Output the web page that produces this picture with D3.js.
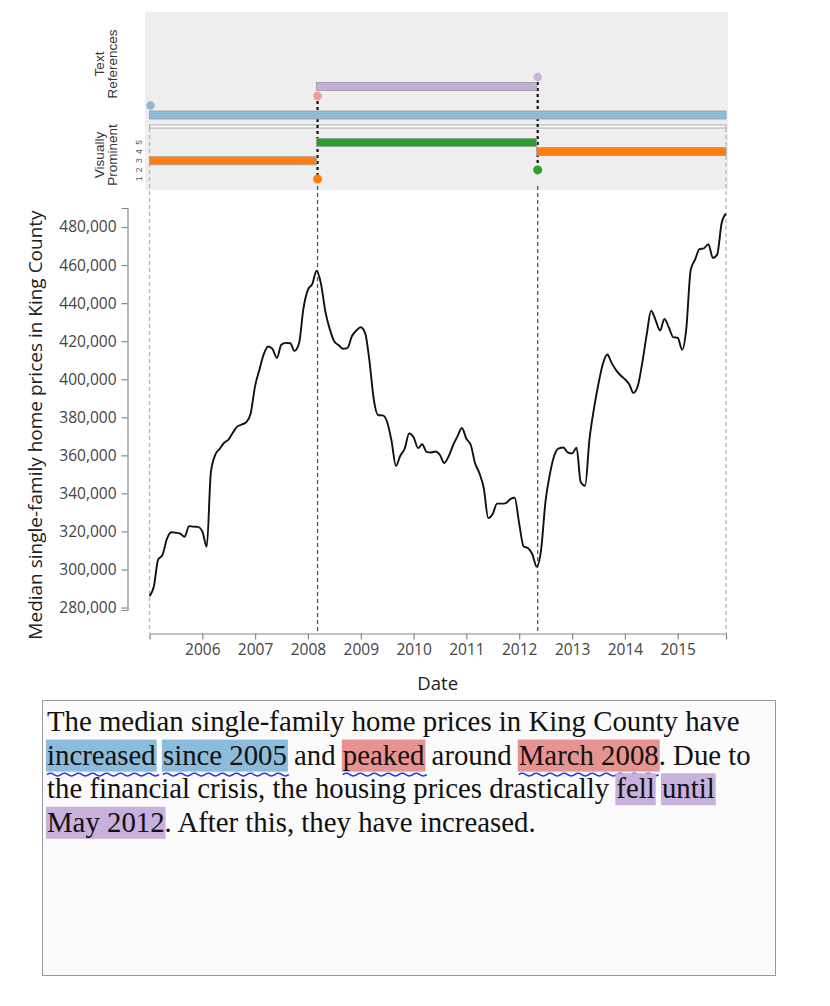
<!DOCTYPE html>
<html>
<head>
<meta charset="utf-8">
<script src="https://cdn.jsdelivr.net/npm/d3@7"></script>
<style>
  html, body { margin: 0; padding: 0; background: #fff; }
  svg { display: block; }
</style>
</head>
<body>
<svg id="chart" width="830" height="1006"></svg>
<script>
// ---------------- DATA ----------------
const startMonth = "2005-01";
// Monthly median single-family home price, King County (Jan 2005 .. Dec 2015)
const prices = [
  286000, 291400, 305100, 307700, 316000, 319600, 319300, 318800, 317200, 322800, 322500, 322400,
  320000, 312000, 350800, 360300, 363400, 366600, 368300, 372000, 375200, 376200, 377400, 381900,
  396400, 405300, 412900, 417200, 415900, 411200, 418100, 419100, 418900, 414900, 418900, 437000,
  447000, 450100, 457000, 450000, 435500, 426200, 420000, 417900, 416000, 416500, 422700, 425600,
  427300, 424000, 410100, 389300, 381100, 381000, 377800, 367800, 354500, 359800, 363600, 371500,
  369500, 363800, 365800, 361800, 361500, 362000, 360300, 356000, 359600, 365300, 370100, 374400,
  368700, 365300, 356100, 350600, 342800, 327000, 329000, 334600, 334600, 334900, 337000, 337700,
  324100, 312100, 311300, 308000, 301500, 310600, 335800, 350400, 360200, 363700, 364100, 361600,
  361000, 364000, 346000, 344000, 368400, 384500, 397200, 407900, 413000, 408600, 404800, 402100,
  400000, 397200, 392800, 396700, 408600, 423600, 436000, 431100, 425600, 431700, 427200, 422100,
  421800, 415500, 426200, 457500, 462900, 468400, 468800, 471000, 463800, 465500, 482100, 487000
];
const yTicks = [280000, 300000, 320000, 340000, 360000, 380000, 400000, 420000, 440000, 460000, 480000];
const xTickYears = [2006, 2007, 2008, 2009, 2010, 2011, 2012, 2013, 2014, 2015];
const promTicks = [1, 2, 3, 4, 5];

// Text references (top lanes)
const refLanes = ["fellPoint", "fellSpan", "peakPoint", "incPoint", "incSpan"];
const refSpans = [
  { lane: "fellSpan", start: "2008-03", end: "2012-05", color: "#c5b0d5" },
  { lane: "incSpan",  start: "2005-01", end: "2015-12", color: "#8fbbd9" }
];
const refPoints = [
  { lane: "fellPoint", date: "2012-05", color: "#c9b3dd" },
  { lane: "peakPoint", date: "2008-03", color: "#ee9c9c" },
  { lane: "incPoint",  date: "2005-01", color: "#8fbbd9" }
];
// Visually prominent (levels 1..5)
const promSpans = [
  { start: "2005-01", end: "2008-03", level: 3, color: "#ff7f0e" },
  { start: "2008-03", end: "2012-05", level: 5, color: "#2ca02c" },
  { start: "2012-05", end: "2015-12", level: 4, color: "#ff7f0e" }
];
const promPoints = [
  { date: "2008-03", level: 1, color: "#ff7f0e", refLane: "peakPoint" },
  { date: "2012-05", level: 2, color: "#2ca02c", refLane: "fellPoint" }
];
const edgeDates = ["2005-01", "2015-12"];

// Text passage
const hlColors = { inc: "#8dbbdc", peak: "#e79391", fell: "#c8b2dd" };
const textLines = [
  [["The median single-family home prices in King County have", null, false]],
  [["increased", "inc", true], [" ", null, false], ["since 2005", "inc", true], [" and ", null, false],
   ["peaked", "peak", true], [" around ", null, false], ["March 2008", "peak", true], [". Due to", null, false]],
  [["the financial crisis, the housing prices drastically ", null, false], ["fell", "fell", false],
   [" ", null, false], ["until", "fell", false]],
  [["May 2012", "fell", false], [". After this, they have increased.", null, false]]
];

// ---------------- CHART ----------------
const parseM = d3.timeParse("%Y-%m");
const t0 = parseM(startMonth);
const series = prices.map((v, i) => ({ date: d3.timeMonth.offset(t0, i), value: v }));

const svg = d3.select("#chart");
const x = d3.scaleTime().domain([parseM("2005-01"), parseM("2015-12")]).range([149.5, 726]);
const y = d3.scaleLinear().domain([278700, 490000]).range([610, 208]);

// top panel background
svg.append("rect").attr("x", 145).attr("y", 12).attr("width", 583).attr("height", 178).attr("fill", "#eeeeee");

const yLane = d3.scalePoint().domain(refLanes).range([77, 115]);
const yProm = d3.scaleLinear().domain([1, 5]).range([179, 142.5]);
const barH = 8;

// thin separator strip
svg.append("rect").attr("x", x(parseM("2005-01"))).attr("y", 125)
  .attr("width", x(parseM("2015-12")) - x(parseM("2005-01"))).attr("height", 3)
  .attr("fill", "#fff").attr("stroke", "#aaa").attr("stroke-width", 1);

// edge dashed lines
svg.selectAll("line.edge").data(edgeDates).join("line").attr("class", "edge")
  .attr("x1", d => x(parseM(d))).attr("x2", d => x(parseM(d)))
  .attr("y1", 128).attr("y2", 633)
  .attr("stroke", "#b5b5b5").attr("stroke-width", 1.3).attr("stroke-dasharray", "4,3");

// event dashed lines in main plot
svg.selectAll("line.evt").data(promPoints).join("line").attr("class", "evt")
  .attr("x1", d => x(parseM(d.date)) + 1).attr("x2", d => x(parseM(d.date)) + 1)
  .attr("y1", 186).attr("y2", 633)
  .attr("stroke", "#555").attr("stroke-width", 1.3).attr("stroke-dasharray", "4,3");

// connectors (thick) in top panel
svg.selectAll("line.conn").data(promPoints).join("line").attr("class", "conn")
  .attr("x1", d => x(parseM(d.date)) + 1).attr("x2", d => x(parseM(d.date)) + 1)
  .attr("y1", d => yLane(d.refLane) + 5).attr("y2", d => yProm(d.level) - 4)
  .attr("stroke", "#111").attr("stroke-width", 2.2).attr("stroke-dasharray", "3,3");

// reference spans
svg.selectAll("rect.rspan").data(refSpans).join("rect").attr("class", "rspan")
  .attr("x", d => x(parseM(d.start))).attr("width", d => x(parseM(d.end)) - x(parseM(d.start)))
  .attr("y", d => yLane(d.lane) - barH / 2).attr("height", barH)
  .attr("fill", d => d.color).attr("stroke", "#9a9a9a").attr("stroke-width", 0.8);
svg.selectAll("circle.rpt").data(refPoints).join("circle").attr("class", "rpt")
  .attr("cx", d => x(parseM(d.date)) + 1).attr("cy", d => yLane(d.lane)).attr("r", 4.3)
  .attr("fill", d => d.color);

// prominence spans
svg.selectAll("rect.pspan").data(promSpans).join("rect").attr("class", "pspan")
  .attr("x", d => x(parseM(d.start))).attr("width", d => x(parseM(d.end)) - x(parseM(d.start)))
  .attr("y", d => yProm(d.level) - barH / 2).attr("height", barH)
  .attr("fill", d => d.color).attr("stroke", "#9a9a9a").attr("stroke-width", 0.8);
svg.selectAll("circle.ppt").data(promPoints).join("circle").attr("class", "ppt")
  .attr("cx", d => x(parseM(d.date)) + 1).attr("cy", d => yProm(d.level)).attr("r", 4.5)
  .attr("fill", d => d.color);

// prominence tick labels (rotated)
svg.selectAll("text.ptick").data(promTicks).join("text").attr("class", "ptick")
  .attr("transform", d => `translate(142,${yProm(d)}) rotate(-90)`)
  .attr("text-anchor", "middle").attr("font-family", "Liberation Sans, Arial, sans-serif")
  .attr("font-size", 8.5).attr("fill", "#555").text(d => d);

// panel labels
function panelLabel(lines, cy) {
  const t = svg.append("text").attr("transform", `translate(104,${cy}) rotate(-90)`)
    .attr("text-anchor", "middle").attr("font-family", "Liberation Sans, Arial, sans-serif")
    .attr("font-size", 13.5).attr("fill", "#333");
  lines.forEach((l, i) => t.append("tspan").attr("x", 0).attr("dy", i === 0 ? 0 : 12.5).text(l));
}
panelLabel(["Text", "References"], 64);
panelLabel(["Visually", "Prominent"], 155);

// axes
const axisFont = "Open Sans, sans-serif";
const yAxis = svg.append("g").attr("transform", "translate(127.5,0)")
  .call(d3.axisLeft(y).tickValues(yTicks).tickFormat(d3.format(",")).tickSize(6).tickPadding(5));
const xAxis = svg.append("g").attr("transform", "translate(0,633.5)")
  .call(d3.axisBottom(x).tickValues(xTickYears.map(yr => new Date(yr, 0, 1)))
    .tickFormat(d3.timeFormat("%Y")).tickSize(6).tickPadding(4));
[yAxis, xAxis].forEach(g => {
  g.selectAll("path.domain").attr("stroke", "#888").attr("stroke-width", 1.2);
  g.selectAll(".tick line").attr("stroke", "#888").attr("stroke-width", 1.2);
  g.selectAll(".tick text").attr("font-family", axisFont).attr("font-size", 15.5).attr("fill", "#444");
});

svg.append("text").attr("x", 437.7).attr("y", 690).attr("text-anchor", "middle")
  .attr("font-family", axisFont).attr("font-size", 18.5).attr("fill", "#222").text("Date");
svg.append("text").attr("transform", "translate(42,425) rotate(-90)").attr("text-anchor", "middle")
  .attr("font-family", axisFont).attr("font-size", 19).attr("fill", "#222")
  .text("Median single-family home prices in King County");

// price line
svg.append("path").datum(series)
  .attr("d", d3.line().x(d => x(d.date)).y(d => y(d.value)).curve(d3.curveMonotoneX))
  .attr("fill", "none").attr("stroke", "#111").attr("stroke-width", 1.9);

// ---------------- TEXT BOX ----------------
svg.append("rect").attr("x", 42.5).attr("y", 700.5).attr("width", 733).attr("height", 275)
  .attr("fill", "#fbfbfb").attr("stroke", "#999").attr("stroke-width", 1);

const fontSize = 28.8;
const baseline0 = 731, lineGap = 33.6;
textLines.forEach((segs, li) => {
  const g = svg.append("g");
  const by = baseline0 + li * lineGap;
  const full = segs.map(s => s[0]).join("");
  const txt = g.append("text").attr("x", 47).attr("y", by)
    .attr("font-family", "Liberation Serif, Times New Roman, serif")
    .attr("font-size", fontSize).attr("fill", "#111")
    .attr("xml:space", "preserve").style("white-space", "pre").text(full);
  const node = txt.node();
  let idx = 0;
  segs.forEach(([s, hl, wavy]) => {
    if (hl) {
      const x0 = node.getStartPositionOfChar(idx).x;
      const x1 = node.getEndPositionOfChar(idx + s.length - 1).x;
      g.insert("rect", "text").attr("x", x0 - 1).attr("y", by - 25)
        .attr("width", x1 - x0 + 2).attr("height", 32).attr("fill", hlColors[hl]);
      if (wavy) {
        const half = 3.5, wy = by + 10;
        let d = `M${x0},${wy}`;
        let k = 0;
        for (let px = x0; px + 2 * half <= x1 + 1; px += 2 * half, k++) {
          d += ` Q${px + half},${wy - 2.6} ${px + 2 * half},${wy} Q${px + 3 * half},${wy + 2.6} ${px + 4 * half},${wy}`;
          px += 2 * half;
        }
        g.append("path").attr("d", d)
          .attr("fill", "none").attr("stroke", "#1d35ff").attr("stroke-width", 1.5);
      }
    }
    idx += s.length;
  });
});
</script>
</body>
</html>
